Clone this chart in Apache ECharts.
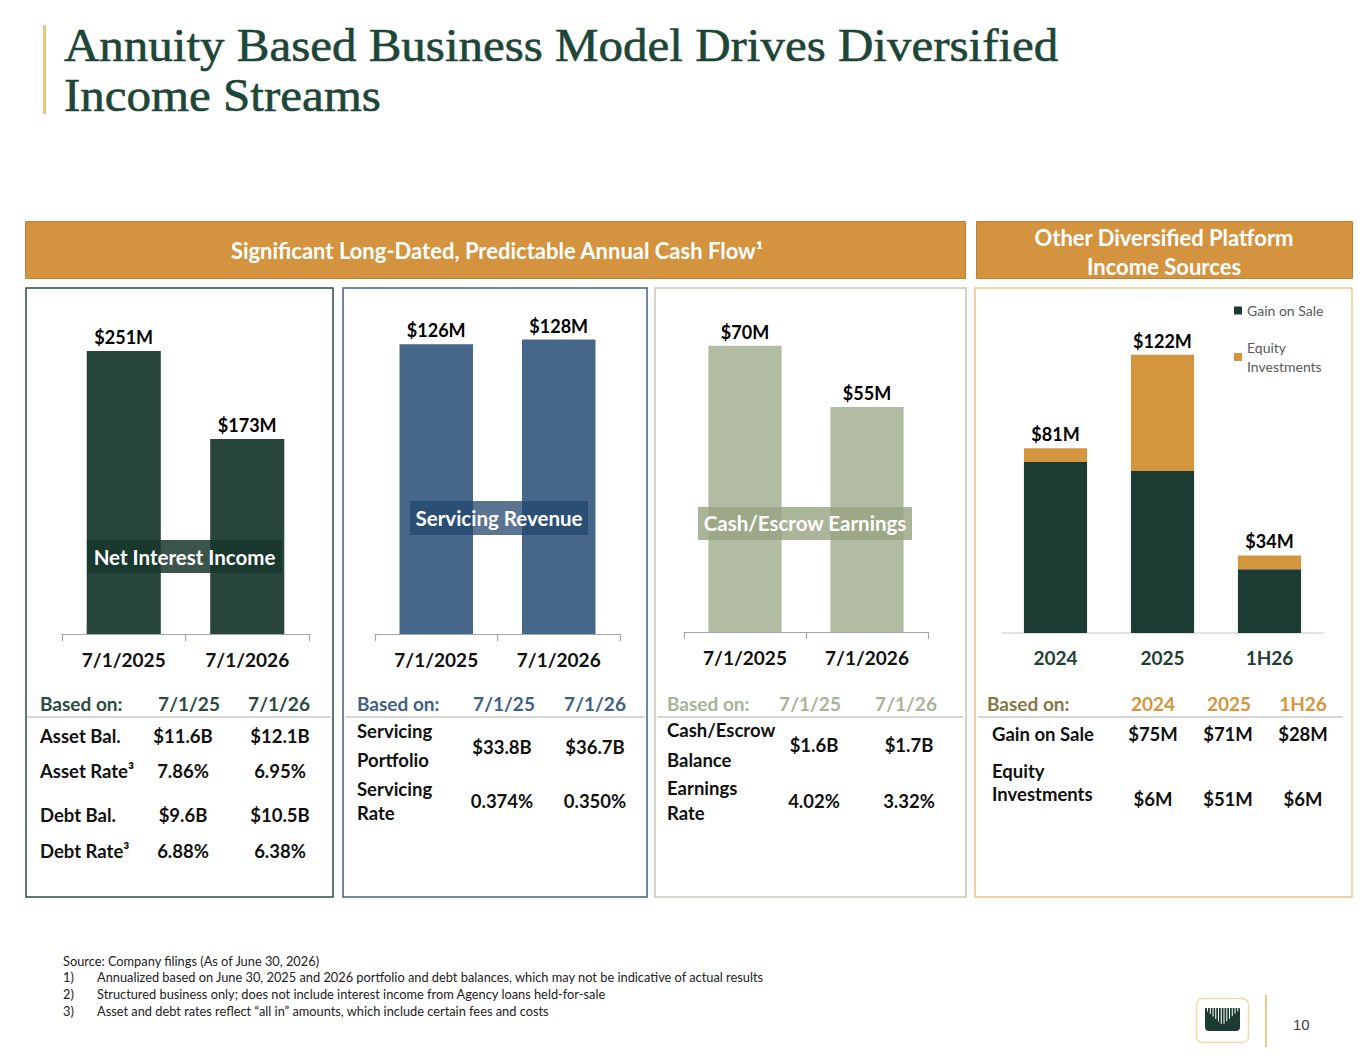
<!DOCTYPE html>
<html>
<head>
<meta charset="utf-8">
<script src="https://cdn.jsdelivr.net/npm/echarts@6.0.0/dist/echarts.min.js"></script>
<style>
  html, body { margin: 0; padding: 0; background: #fff; }
  #slide { width: 1365px; height: 1055px; }
</style>
</head>
<body>
<div id="slide"></div>
<script>
// ---- data ----
const titleLines = ["Annuity Based Business Model Drives Diversified", "Income Streams"];
const dateCats = ["7/1/2025", "7/1/2026"];
const niiValues = [251, 173];          // Net Interest Income ($M)
const svcValues = [126, 128];          // Servicing Revenue ($M)
const escValues = [70, 55];            // Cash/Escrow Earnings ($M)
const otherCats = ["2024", "2025", "1H26"];
const gainOnSale = [75, 71, 28];
const equityInv = [6, 51, 6];
const otherTotals = [81, 122, 34];

const niiHead = ["Based on:", "7/1/25", "7/1/26"];
const niiRows = [["Asset Bal.", "$11.6B", "$12.1B"], ["Asset Rate³", "7.86%", "6.95%"],
                 ["Debt Bal.", "$9.6B", "$10.5B"], ["Debt Rate³", "6.88%", "6.38%"]];
const svcHead = ["Based on:", "7/1/25", "7/1/26"];
const svcRows = [[["Servicing", "Portfolio"], "$33.8B", "$36.7B"], [["Servicing", "Rate"], "0.374%", "0.350%"]];
const escHead = ["Based on:", "7/1/25", "7/1/26"];
const escRows = [[["Cash/Escrow", "Balance"], "$1.6B", "$1.7B"], [["Earnings", "Rate"], "4.02%", "3.32%"]];
const othHead = ["Based on:", "2024", "2025", "1H26"];
const othRows = [[["Gain on Sale"], "$75M", "$71M", "$28M"], [["Equity", "Investments"], "$6M", "$51M", "$6M"]];

const footnotes = [
  ["", "Source: Company filings (As of June 30, 2026)"],
  ["1)", "Annualized based on June 30, 2025 and 2026 portfolio and debt balances, which may not be indicative of actual results"],
  ["2)", "Structured business only; does not include interest income from Agency loans held-for-sale"],
  ["3)", "Asset and debt rates reflect \u201call in\u201d amounts, which include certain fees and costs"],
];

// ---- styles ----
const FF = "Lato, 'Open Sans', sans-serif";
const GREEN = "#27453B", BLUE = "#46678A", SAGE = "#B2BCA3", DARK = "#1C3B33", GOLD = "#D4953F";
const TFONT = "bold 18.5px " + FF;

const G = [];
function text(x, y, s, font, fill, align, z, extra, el) {
  const style = Object.assign({ text: s, font: font, fill: fill, textAlign: align || "left", textVerticalAlign: "middle" }, extra || {});
  G.push(Object.assign({ type: "text", x: x, y: y, silent: true, z: z || 10, style: style }, el || {}));
}
function rect(x, y, w, h, fill, stroke, lw, z, r) {
  G.push({ type: "rect", silent: true, z: z || 1, shape: { x: x, y: y, width: w, height: h, r: r || 0 },
    style: { fill: fill || "none", stroke: stroke || null, lineWidth: lw || 0 } });
}
function line(x1, y1, x2, y2, stroke, lw, z) {
  G.push({ type: "line", silent: true, z: z || 1, shape: { x1: x1, y1: y1, x2: x2, y2: y2 },
    style: { stroke: stroke, lineWidth: lw || 1 } });
}

// title (one text block, two lines)
rect(43, 25, 3, 89, "#EBC57E", null, 0);
text(64, 70.5, titleLines.join("\n"), "46px 'Liberation Serif', serif", "#1E4638", "left", 10,
  { lineHeight: 51, stroke: "#1E4638", lineWidth: 0.6 }, { scaleX: 1.065 });

// section headers
rect(25.5, 221.5, 940, 57, "#D4943F", "#BE8132", 1);
text(497, 250, "Significant Long-Dated, Predictable Annual Cash Flow\u00b9", "bold 22px " + FF, "#fff", "center");
rect(976.5, 221.5, 376, 57, "#D4943F", "#BE8132", 1);
text(1164, 251.5, "Other Diversified Platform\nIncome Sources", "bold 22px " + FF, "#fff", "center", 10, { lineHeight: 29 });

// panel frames
rect(26, 288, 307, 609, null, "#2B4C40", 1.5);
rect(343, 288, 304, 609, null, "#41617F", 1.5);
rect(655, 288, 311, 609, null, "#C2C9B5", 1.5);
rect(975, 288, 377, 609, null, "#EDC58C", 1.5);

// chart captions over the bars
rect(87, 540, 195, 33, "rgba(25,55,45,0.85)", null, 0, 100);
text(184.5, 557, "Net Interest Income", "bold 20.5px " + FF, "#fff", "center", 101);
rect(410, 501, 178, 34, "rgba(35,70,110,0.75)", null, 0, 100);
text(499, 518, "Servicing Revenue", "bold 20.5px " + FF, "#fff", "center", 101);
rect(698, 507, 214, 33, "rgba(150,162,128,0.8)", null, 0, 100);
text(805, 523, "Cash/Escrow Earnings", "bold 20.5px " + FF, "#fff", "center", 101);

// tables
function table(head, headColors, rows, cfg) {
  text(cfg.headX, 703, head[0], "bold 19px " + FF, headColors[0], "left");
  for (let i = 1; i < head.length; i++) text(cfg.headCols[i - 1], 703, head[i], "bold 19px " + FF, headColors[1], "center");
  line(cfg.sep[0], 717, cfg.sep[1], 717, "#C8C8C8", 1.5);
  rows.forEach((r, ri) => {
    const labels = Array.isArray(r[0]) ? r[0] : [r[0]];
    labels.forEach((l, li) => text(cfg.labelX, cfg.labelY[ri][li], l, TFONT, "#111", "left"));
    for (let c = 1; c < r.length; c++) text(cfg.cols[c - 1], cfg.valY[ri], r[c], TFONT, "#111", "center");
  });
}
table(niiHead, ["#2B4C40", "#2B4C40"], niiRows, { headX: 40, headCols: [189, 279], sep: [27, 331], labelX: 40,
  cols: [183, 280], labelY: [[736], [771], [815], [851]], valY: [736, 771, 815, 851] });
table(svcHead, ["#3E6185", "#3E6185"], svcRows, { headX: 357, headCols: [504, 595], sep: [345, 645], labelX: 357,
  cols: [502, 595], labelY: [[731, 760], [789, 813]], valY: [747, 801] });
table(escHead, ["#A8B398", "#A8B398"], escRows, { headX: 667, headCols: [810, 906], sep: [657, 963], labelX: 667,
  cols: [814, 909], labelY: [[730, 760], [788, 813]], valY: [745, 801] });
table(othHead, ["#857744", GOLD], othRows, { headX: 987, headCols: [1153, 1229, 1303], sep: [978, 1343], labelX: 992,
  cols: [1153, 1228, 1303], labelY: [[734], [771, 794]], valY: [734, 799] });

// footnotes
footnotes.forEach((f, i) => {
  const y = [961, 977, 994, 1011][i];
  if (f[0]) { text(63, y, f[0], "12.8px " + FF, "#222"); text(97, y, f[1], "12.8px " + FF, "#222"); }
  else text(63, y, f[1], "12.8px " + FF, "#222");
});

// logo + page number
rect(1196.5, 998.5, 52, 44, "#fff", "#F0DAAA", 1.5, 1, 6);
rect(1205, 1008, 35, 23, DARK, null, 0, 2, [1, 1, 4, 4]);
for (let i = 0; i < 12; i++) {
  const sx = 1207.5 + i * 2.75;
  const d = Math.abs(sx - 1222.5);
  line(sx, 1008, sx, 1008 + 17 - d * 0.9, "#fff", 1, 3);
}
line(1266, 995, 1266, 1047, "#EBCB8B", 2);
text(1293, 1024, "10", "15px 'Liberation Sans', Arial, sans-serif", "#404040");

// ---- charts ----
const valueLabel = { show: true, position: "top", distance: 5, color: "#000",
  fontFamily: FF, fontWeight: "bold", fontSize: 18, formatter: p => "$" + p.value + "M" };

function dateAxis(grid) {
  return { type: "category", gridIndex: grid, data: dateCats,
    axisLine: { lineStyle: { color: "#A6A6A6", width: 1.2 } },
    axisTick: { show: true, length: 7, lineStyle: { color: "#A6A6A6", width: 1.2 } },
    axisLabel: { color: "#111", fontFamily: FF, fontWeight: "bold", fontSize: 19, margin: 16 } };
}
function hiddenY(grid, max) {
  return { type: "value", gridIndex: grid, min: 0, max: max, show: false, splitLine: { show: false } };
}

const option = {
  backgroundColor: "#fff",
  animation: false,
  graphic: { elements: G },
  legend: {
    orient: "vertical", left: 1229, top: 296, itemWidth: 8, itemHeight: 8, itemGap: 18, icon: "rect",
    data: ["Gain on Sale", "Equity Investments"],
    formatter: n => n === "Equity Investments" ? "Equity\nInvestments" : n,
    textStyle: { color: "#595959", fontFamily: FF, fontSize: 14, lineHeight: 19 },
  },
  grid: [
    { left: 62, top: 318.4, width: 247, height: 315.6 },
    { left: 375, top: 335, width: 245, height: 299 },
    { left: 684, top: 325.3, width: 244, height: 306.7 },
    { left: 1002, top: 336.6, width: 321, height: 296.4 },
  ],
  xAxis: [
    dateAxis(0), dateAxis(1), dateAxis(2),
    { type: "category", gridIndex: 3, data: otherCats,
      axisLine: { lineStyle: { color: "#D9D9D9", width: 1.5 } }, axisTick: { show: false },
      axisLabel: { color: "#213F36", fontFamily: FF, fontWeight: "bold", fontSize: 19, margin: 15 } },
  ],
  yAxis: [hiddenY(0, 280), hiddenY(1, 130), hiddenY(2, 75), hiddenY(3, 130)],
  series: [
    { type: "bar", name: "Net Interest Income", xAxisIndex: 0, yAxisIndex: 0, data: niiValues,
      barWidth: "60%", itemStyle: { color: GREEN }, label: valueLabel },
    { type: "bar", name: "Servicing Revenue", xAxisIndex: 1, yAxisIndex: 1, data: svcValues,
      barWidth: "60%", itemStyle: { color: BLUE }, label: valueLabel },
    { type: "bar", name: "Cash/Escrow Earnings", xAxisIndex: 2, yAxisIndex: 2, data: escValues,
      barWidth: "60%", itemStyle: { color: SAGE }, label: valueLabel },
    { type: "bar", name: "Gain on Sale", xAxisIndex: 3, yAxisIndex: 3, stack: "other", data: gainOnSale,
      barWidth: "59%", itemStyle: { color: DARK } },
    { type: "bar", name: "Equity Investments", xAxisIndex: 3, yAxisIndex: 3, stack: "other", data: equityInv,
      barWidth: "59%", itemStyle: { color: GOLD },
      label: Object.assign({}, valueLabel, { formatter: p => "$" + otherTotals[p.dataIndex] + "M" }) },
  ],
};

const chart = echarts.init(document.getElementById("slide"), null, { renderer: "svg" });
chart.setOption(option);
</script>
</body>
</html>
